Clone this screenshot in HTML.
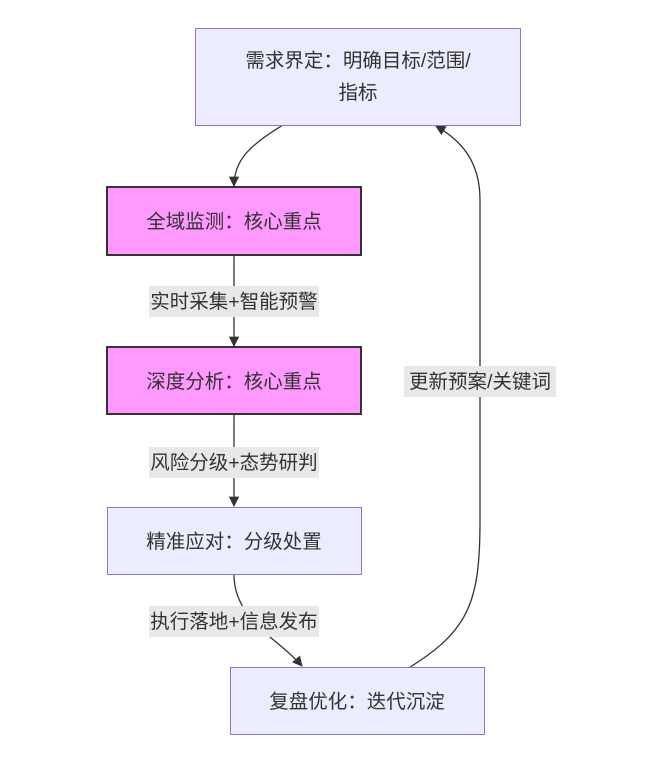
<!DOCTYPE html>
<html><head><meta charset="utf-8"><style>
body{margin:0;background:#fff;}
svg text{font-family:"Liberation Sans","Noto Sans CJK SC",sans-serif;font-size:19.5px;fill:#333;}
</style></head><body>
<svg width="666" height="770" xmlns="http://www.w3.org/2000/svg">
<defs><marker id="a" viewBox="0 0 10 10" refX="9" refY="5" markerWidth="8" markerHeight="8" orient="auto"><path d="M0,0L10,5L0,10z" fill="#333"/></marker></defs>
<g fill="none" stroke="#333" stroke-width="1.3">
<path d="M283,125 C250,145 234,160 234,186" marker-end="url(#a)"/>
<path d="M234,255 L234,346" marker-end="url(#a)"/>
<path d="M234,414 L234,506" marker-end="url(#a)"/>
<path d="M234,575 C234,620 280,640 302,666" marker-end="url(#a)"/>
<path d="M410,667 C470,630 480,600 480,520 L480,200 C480,160 460,140 436,126" marker-end="url(#a)"/>
</g>
<rect x="195.5" y="28.5" width="325" height="97" fill="#ececff" stroke="#9370db"/>
<text x="358" y="67" text-anchor="middle">需求界定：明确目标/范围/</text>
<text x="358" y="99" text-anchor="middle">指标</text>
<rect x="107" y="187" width="254" height="68" fill="#ff99ff" stroke="#333" stroke-width="2"/>
<text x="234" y="228" text-anchor="middle">全域监测：核心重点</text>
<rect x="107" y="347" width="254" height="67" fill="#ff99ff" stroke="#333" stroke-width="2"/>
<text x="234" y="388" text-anchor="middle">深度分析：核心重点</text>
<rect x="107.5" y="507.5" width="254" height="67" fill="#ececff" stroke="#9370db"/>
<text x="234" y="548" text-anchor="middle">精准应对：分级处置</text>
<rect x="230.5" y="667.5" width="254" height="67" fill="#ececff" stroke="#9370db"/>
<text x="357" y="708" text-anchor="middle">复盘优化：迭代沉淀</text>
<rect x="149" y="286" width="170" height="31" fill="#e8e8e8"/>
<text x="234" y="308" text-anchor="middle">实时采集+智能预警</text>
<rect x="149" y="447" width="170" height="31" fill="#e8e8e8"/>
<text x="234" y="469" text-anchor="middle">风险分级+态势研判</text>
<rect x="149" y="606" width="170" height="31" fill="#e8e8e8"/>
<text x="234" y="628" text-anchor="middle">执行落地+信息发布</text>
<rect x="404" y="366" width="152" height="31" fill="#e8e8e8"/>
<text x="480" y="388" text-anchor="middle">更新预案/关键词</text>
</svg>
</body></html>
